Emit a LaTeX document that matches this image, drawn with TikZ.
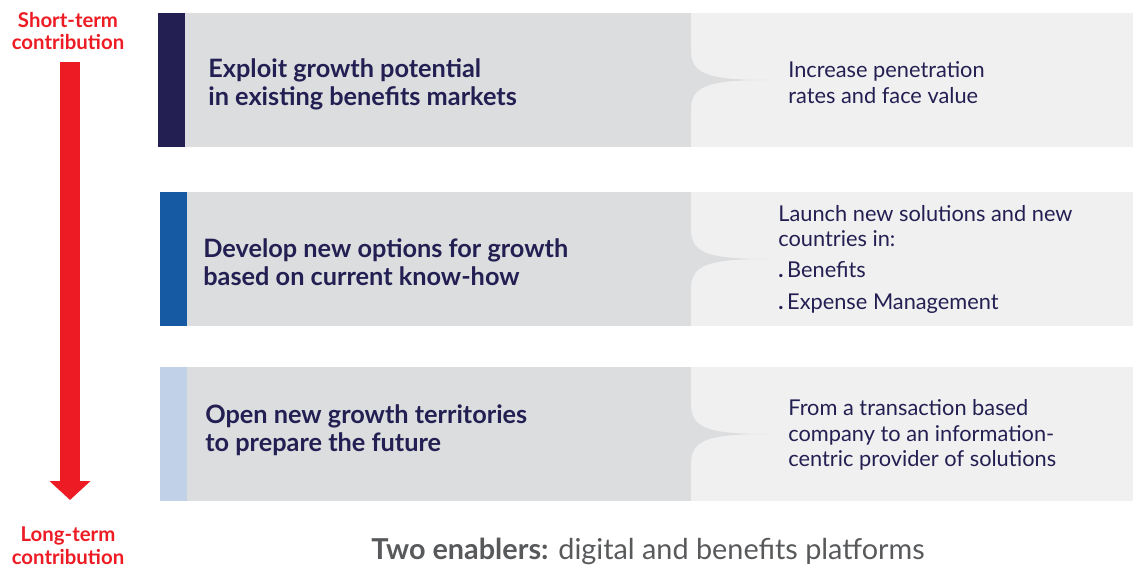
\documentclass[tikz,border=0pt]{standalone}
\usepackage{fontspec}
\setmainfont{Lato}
\usetikzlibrary{arrows.meta,positioning}
\definecolor{mynavy}{RGB}{35,31,82}
\definecolor{myblue}{RGB}{22,90,163}
\definecolor{mylightblue}{RGB}{192,209,232}
\definecolor{mygray}{RGB}{220,221,223}
\definecolor{mylightgray}{RGB}{240,240,240}
\definecolor{myred}{RGB}{237,28,36}
\definecolor{mytext}{RGB}{88,89,91}

\begin{document}
\begin{tikzpicture}[
  x=0.02cm, y=-0.02cm,
  mytitle/.style={
    anchor=west,
    align=left,
    inner sep=0pt,
    text=mynavy,
    font=\bfseries\fontsize{14.4}{15.9}\selectfont
    },
  mydetail/.style={
    anchor=west,
    align=left,
    inner sep=0pt,
    text=mynavy,
    font=\fontsize{12.4}{14.7}\selectfont
    },
  myterm/.style={
    align=center,
    inner sep=0pt,
    text=myred,
    font=\bfseries\fontsize{11.6}{13}\selectfont
  }
]
\useasboundingbox (0,0) rectangle (1133,567);

% rows
\foreach \Top/\Left/\Strip [count=\Row from 1] in {13/158/mynavy, 192/160/myblue, 367/160/mylightblue}
{
  \fill[mylightgray] (691,\Top) rectangle (1133,\Top+134);
  \fill[mygray] (\Left+27,\Top) rectangle (691,\Top+134);
  \fill[\Strip] (\Left,\Top) rectangle (\Left+27,\Top+134);
  \fill[mygray] (691,\Top+37) .. controls (691,\Top+60) and (705,\Top+67) .. (767,\Top+67)
    .. controls (705,\Top+67) and (691,\Top+74) .. (691,\Top+97) -- cycle;
}

\node[mytitle] (grow1) at (208,84) {Exploit growth potential\\in existing benefits markets};
\node[mytitle] (grow2) at (203,262) {Develop new options for growth\\based on current know-how};
\node[mytitle] (grow3) at (205,430) {Open new growth territories\\to prepare the future};

\node[mydetail] (lever1) at (788,83) {Increase penetration\\rates and face value};
\node[mydetail] (lever2) at (778,259) {Launch new solutions and new\\countries in:\\[3pt]
  \textbf{.}\,Benefits\\[3pt] \textbf{.}\,Expense Management};
\node[mydetail] (lever3) at (788,435) {From a transaction based\\company to an information-\\centric provider of solutions};

% time axis
\node[myterm] (short) at (68,31) {Short-term\\contribution};
\node[myterm] (long) at (68,546) {Long-term\\contribution};
\coordinate (arrowtop) at (70,62);
\coordinate (arrowtip) at (70,500);
\draw[myred, line width=0.4cm, -{Triangle[width=0.8cm,length=0.38cm]}] (arrowtop) -- (arrowtip);

\node[text=mytext, inner sep=0pt, font=\fontsize{16.4}{19}\selectfont] (enablers) at (648,551)
  {\textbf{Two enablers:} digital and benefits platforms};

\end{tikzpicture}
\end{document}
